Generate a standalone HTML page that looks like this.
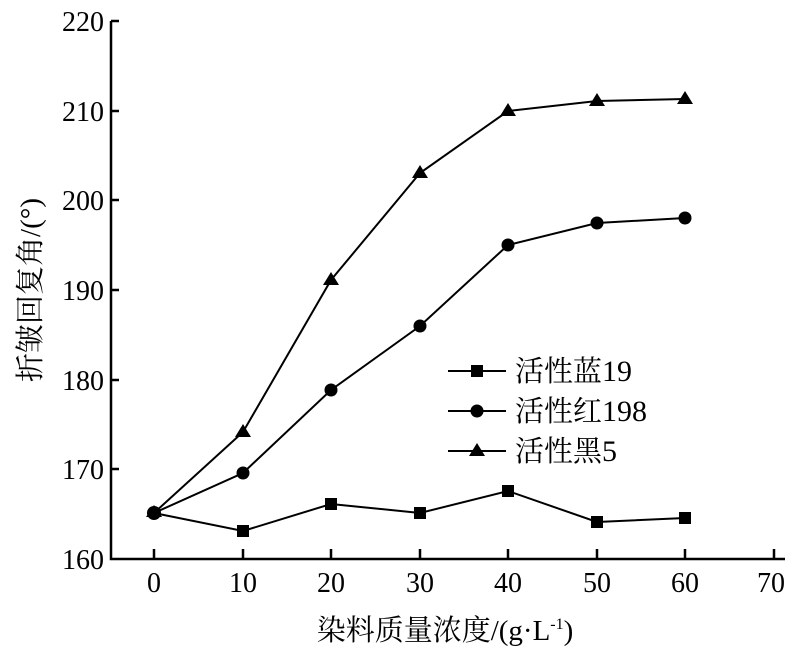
<!DOCTYPE html><html><head><meta charset="utf-8"><style>body{margin:0;background:#fff}svg{display:block}</style></head><body>
<svg width="800" height="655" xmlns="http://www.w3.org/2000/svg" font-family="Liberation Serif, 'Noto Serif CJK SC', serif">
<g stroke="#000" stroke-width="2.5" fill="none">
<path d="M111,21 V559 H785"/>
<path d="M111,21h8M111,111h8M111,200h8M111,290h8M111,380h8M111,469h8"/>
<path d="M154,559v-10M243,559v-10M331,559v-10M420,559v-10M508,559v-10M597,559v-10M685,559v-10M774,559v-10"/>
</g>
<g font-size="28" text-anchor="end">
<text x="104" y="31">220</text><text x="104" y="121">210</text><text x="104" y="210">200</text><text x="104" y="300">190</text><text x="104" y="390">180</text><text x="104" y="479">170</text><text x="104" y="569">160</text>
</g>
<g font-size="28" text-anchor="middle">
<text x="154" y="592">0</text><text x="243" y="592">10</text><text x="331" y="592">20</text><text x="420" y="592">30</text><text x="508" y="592">40</text><text x="597" y="592">50</text><text x="685" y="592">60</text><text x="771" y="592">70</text>
<text x="445" y="640" font-size="29" font-family="Liberation Serif, 'Noto Serif CJK SC', serif">染料质量浓度/(g·L<tspan font-size="16" dy="-11">-1</tspan><tspan dy="11">)</tspan></text>
<text transform="translate(40,290) rotate(-90)" font-size="29" font-family="Liberation Serif, 'Noto Serif CJK SC', serif">折皱回复角/(°)</text>
</g>
<g stroke="#000" stroke-width="2" fill="none">
<polyline points="154,513 243,531 331,504 420,513 508,491 597,522 685,518"/>
<polyline points="154,513 243,473 331,390 420,326 508,245 597,223 685,218"/>
<polyline points="154,513 243,432 331,280 420,173 508,111 597,101 685,99"/>
<path d="M448,371h58M448,411h58M448,451h58"/>
</g>
<g fill="#000">
<g><rect x="237" y="525" width="12" height="12"/><rect x="325" y="498" width="12" height="12"/><rect x="414" y="507" width="12" height="12"/><rect x="502" y="485" width="12" height="12"/><rect x="591" y="516" width="12" height="12"/><rect x="679" y="512" width="12" height="12"/><rect x="471" y="365" width="12" height="12"/></g>
<g><circle cx="154" cy="513" r="7"/><circle cx="243" cy="473" r="6.5"/><circle cx="331" cy="390" r="6.5"/><circle cx="420" cy="326" r="6.5"/><circle cx="508" cy="245" r="6.5"/><circle cx="597" cy="223" r="6.5"/><circle cx="685" cy="218" r="6.5"/><circle cx="477" cy="411" r="6.5"/></g>
<g><path d="M154,505l8,12h-16z"/><path d="M243,424l8,13h-16z"/><path d="M331,272l8,13h-16z"/><path d="M420,165l8,13h-16z"/><path d="M508,103l8,13h-16z"/><path d="M597,93l8,13h-16z"/><path d="M685,91l8,13h-16z"/><path d="M477,443l8,13h-16z"/></g>
</g>
<g font-size="29" font-family="'Noto Serif CJK SC', serif">
<text x="515" y="381">活性蓝<tspan font-family="Liberation Serif" font-size="30">19</tspan></text><text x="515" y="421">活性红<tspan font-family="Liberation Serif" font-size="30">198</tspan></text><text x="515" y="461">活性黑<tspan font-family="Liberation Serif" font-size="30">5</tspan></text>
</g>
</svg>
</body></html>
